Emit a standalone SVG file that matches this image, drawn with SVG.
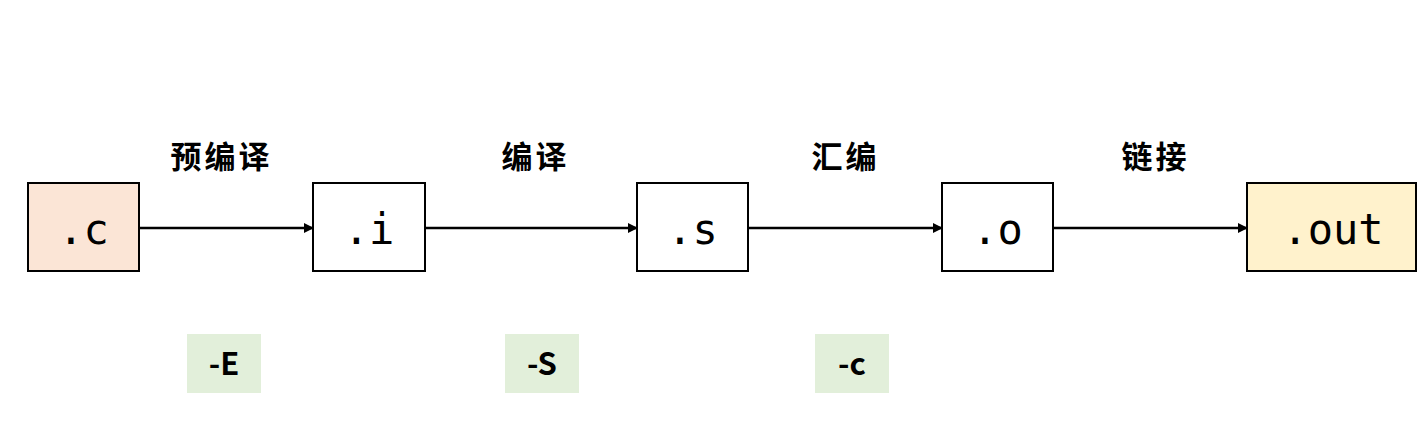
<svg xmlns="http://www.w3.org/2000/svg" width="1418" height="439" viewBox="0 0 1418 439">
<style>
.box{stroke:#000;stroke-width:2}
.t{font-family:"DejaVu Sans Mono","Liberation Mono",monospace;font-size:42px;fill:#000;text-anchor:middle}
.lbl{font-family:"Noto Sans CJK SC",sans-serif;font-weight:bold;font-size:31px;letter-spacing:3px;fill:#000;text-anchor:middle}
.opt{fill:#e2efda}
.ot{font-family:"Noto Sans CJK SC","Liberation Sans",sans-serif;font-weight:bold;font-size:31px;fill:#000;text-anchor:middle}
.edge{stroke:#000;stroke-width:2.5;fill:none}
</style>
<defs>
<marker id="ah" markerWidth="10" markerHeight="10" refX="9" refY="5" orient="auto" markerUnits="userSpaceOnUse">
<path d="M0,0 L10,5 L0,10 z" fill="#000"/>
</marker>
</defs>
<rect width="1418" height="439" fill="#fff"/>
<g id="connectors">
<line class="edge" x1="139" y1="228" x2="313" y2="228" marker-end="url(#ah)"/>
<line class="edge" x1="425" y1="228" x2="637" y2="228" marker-end="url(#ah)"/>
<line class="edge" x1="748" y1="228" x2="942" y2="228" marker-end="url(#ah)"/>
<line class="edge" x1="1053" y1="228" x2="1247" y2="228" marker-end="url(#ah)"/>
</g>
<g id="node-c"><rect class="box" x="28" y="183" width="111" height="88" fill="#fbe5d6"/><text class="t" x="83.5" y="244">.c</text></g>
<g id="node-i"><rect class="box" x="313" y="183" width="112" height="88" fill="#fff"/><text class="t" x="369" y="244">.i</text></g>
<g id="node-s"><rect class="box" x="637" y="183" width="111" height="88" fill="#fff"/><text class="t" x="692.5" y="244">.s</text></g>
<g id="node-o"><rect class="box" x="942" y="183" width="111" height="88" fill="#fff"/><text class="t" x="997.5" y="244">.o</text></g>
<g id="node-out"><rect class="box" x="1247" y="183" width="169" height="88" fill="#fff2cc"/><text class="t" x="1333" y="244">.out</text></g>
<g id="labels">
<text class="lbl" x="221.5" y="168">预编译</text>
<text class="lbl" x="535.5" y="168">编译</text>
<text class="lbl" x="845.5" y="168">汇编</text>
<text class="lbl" x="1155.5" y="168">链接</text>
</g>
<g id="opt-E"><rect class="opt" x="187" y="334" width="74" height="59"/><text class="ot" x="224" y="375">-E</text></g>
<g id="opt-S"><rect class="opt" x="505" y="334" width="74" height="59"/><text class="ot" x="542" y="375">-S</text></g>
<g id="opt-c"><rect class="opt" x="815" y="334" width="74" height="59"/><text class="ot" x="852" y="375">-c</text></g>
</svg>
